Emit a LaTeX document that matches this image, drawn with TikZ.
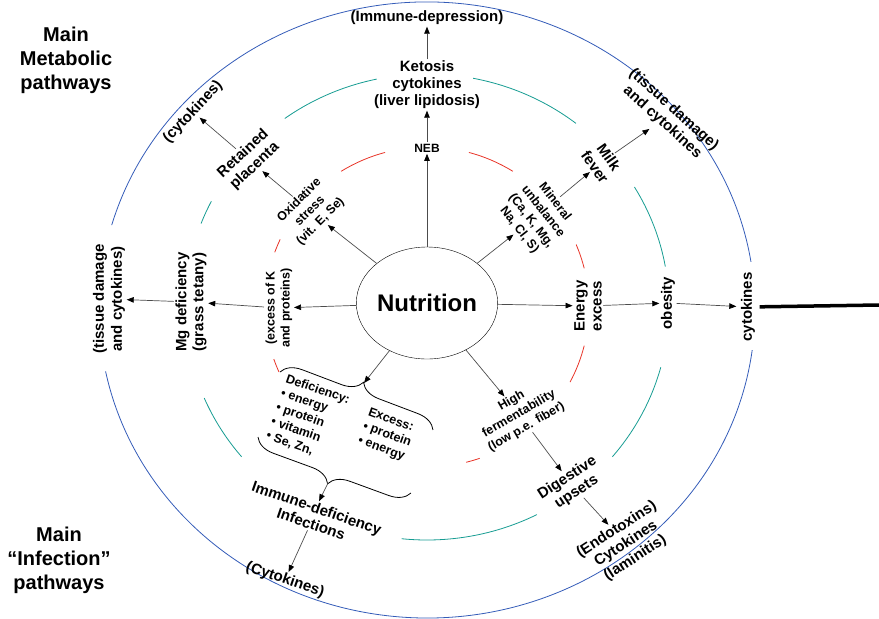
\documentclass[tikz,border=0pt]{standalone}
\usepackage{fontspec}
\setmainfont{Liberation Sans}
\usetikzlibrary{arrows.meta,decorations.pathreplacing,shapes.geometric}
\definecolor{ringblue}{RGB}{52,92,184}
\definecolor{ringteal}{RGB}{22,156,146}
\definecolor{ringred}{RGB}{232,52,40}

\begin{document}
\begin{tikzpicture}[x=1pt,y=-1pt,
  every node/.style={inner sep=1.5pt,align=center,font=\bfseries\fontsize{15}{17}\selectfont},
  sm/.style={font=\bfseries\fontsize{12.5}{15}\selectfont},
  huge/.style={font=\bfseries\fontsize{20}{24}\selectfont},
  arr/.style={-{Triangle[length=7pt,width=5.5pt,color=black]},line width=0.7pt,black!70},
  ring/.style={line width=0.8pt},
  brc/.style={decorate,decoration={brace,amplitude=20pt},line width=0.8pt}]
\useasboundingbox (0,0) rectangle (879,619);

% rings
\draw[ring,ringblue] (427,310) ++(196:328 and 308) arc (196:351:328 and 308);
\draw[ring,ringblue] (427,310) ++(7.5:328 and 308) arc (7.5:168.5:328 and 308);
\draw[ring,ringteal] (427,307) ++(234:242 and 233) arc (234:258:242 and 233);
\draw[ring,ringteal] (427,307) ++(201:242 and 233) arc (201:207:242 and 233);
\draw[ring,ringteal] (427,307) ++(281:242 and 233) arc (281:308:242 and 233);
\draw[ring,ringteal] (427,307) ++(329:242 and 233) arc (329:350:242 and 233);
\draw[ring,ringteal] (427,307) ++(15:242 and 233) arc (15:40:242 and 233);
\draw[ring,ringteal] (427,307) ++(63:242 and 233) arc (63:96:242 and 233);
\draw[ring,ringteal] (427,307) ++(140:242 and 233) arc (140:157:242 and 233);
\draw[ring,ringred] (427,307) ++(238:162 and 160) arc (238:255:162 and 160);
\draw[ring,ringred] (427,307) ++(285:162 and 160) arc (285:302:162 and 160);
\draw[ring,ringred] (427,307) ++(337:162 and 160) arc (337:346:162 and 160);
\draw[ring,ringred] (427,307) ++(14:162 and 160) arc (14:28:162 and 160);
\draw[ring,ringred] (427,307) ++(71:162 and 160) arc (71:76:162 and 160);
\draw[ring,ringred] (427,307) ++(156:162 and 160) arc (156:161:162 and 160);
\draw[ring,ringred] (427,307) ++(200:162 and 160) arc (200:205:162 and 160);

% titles
\node[huge] (mainmet) at (66,60) {Main\\Metabolic\\pathways};
\node[huge] (maininf) at (59,560) {Main\\``Infection''\\pathways};

% centre
\node[draw,ellipse,minimum width=138pt,minimum height=112pt,inner sep=0pt,
  font=\bfseries\fontsize{24}{28}\selectfont] (nut) at (427,303) {Nutrition};

% metabolic side
\node[font=\bfseries\fontsize{12}{14}\selectfont] (neb) at (427,148) {NEB};
\node (ketosis) at (427,85) {Ketosis\\cytokines\\(liver lipidosis)};
\node (immdep) at (427,18) {(Immune-depression)};
\node[sm,rotate=45] (oxid) at (310,211) {Oxidative\\stress\\(vit. E, Se)};
\node[rotate=43] (placenta) at (249,160) {Retained\\placenta};
\node[rotate=47] (cytoA) at (193,112) {(cytokines)};
\node[sm,rotate=-52] (mineral) at (537,216) {Mineral\\unbalance\\(Ca, K, Mg,\\Na, Cl, S)};
\node[rotate=-55] (milk) at (602,162) {Milk\\fever};
\node[rotate=-42] (tissueA) at (668,116) {(tissue damage)\\and cytokines};
\node[sm,rotate=90] (excessK) at (279,308) {(excess of K\\and proteins)};
\node[rotate=90] (mgdef) at (191,302) {Mg deficiency\\(grass tetany)};
\node[rotate=90,font=\bfseries\fontsize{15}{18}\selectfont] (tissueB) at (109,299) {(tissue damage\\and cytokines)};
\node[rotate=90] (energy) at (588,306) {Energy\\excess};
\node[rotate=90] (obesity) at (668,303) {obesity};
\node[rotate=90] (cytoR) at (748,307) {cytokines};
\coordinate (edge) at (879,305);

% infection side
\node[sm,rotate=-19,align=left] (deficiency) at (308,418) {Deficiency:\\\textbullet\ energy\\\textbullet\ protein\\\textbullet\ vitamin\\\textbullet\ Se, Zn,};
\node[sm,rotate=-20,align=left] (excess) at (387,435) {Excess:\\\textbullet\ protein\\\textbullet\ energy};
\draw[brc] (280,372) -- (433,430);
\draw[brc,decoration={mirror}] (258,437) -- (411,493);
\coordinate (bracetop) at (364,383);
\coordinate (bracebot) at (328,483);
\node[rotate=-19] (immdef) at (314,516) {Immune-deficiency\\Infections};
\node[rotate=-19] (cytoB) at (285,580) {(Cytokines)};
\node[sm,rotate=30] (highferm) at (519,414) {High\\fermentability\\(low p.e. fiber)};
\node[rotate=33] (digest) at (572,485) {Digestive\\upsets};
\node[rotate=33] (endotox) at (626,544) {(Endotoxins)\\Cytokines\\(laminitis)};

% connectors
\draw[arr] (nut) -- (neb);
\draw[arr] (neb) -- (ketosis);
\draw[arr] (ketosis) -- (immdep);
\draw[arr] (nut) -- (oxid);
\draw[arr] (oxid) -- (placenta);
\draw[arr] (placenta) -- (cytoA);
\draw[arr] (nut) -- (mineral);
\draw[arr] (mineral) -- (milk);
\draw[arr,shorten >=5pt] (milk) -- (tissueA);
\draw[arr] (nut) -- (excessK);
\draw[arr] (excessK) -- (mgdef);
\draw[arr] (mgdef) -- (tissueB);
\draw[arr] (nut) -- (energy);
\draw[arr] (energy) -- (obesity);
\draw[arr,shorten >=3pt] (obesity) -- (cytoR);
\draw[line width=3.5pt,shorten <=3pt] (cytoR) -- (edge);
\draw[arr] (nut) -- (bracetop);
\draw[arr] (bracebot) -- (immdef.north);
\draw[arr] (immdef) -- (cytoB);
\draw[arr] (nut) -- (highferm);
\draw[arr] (highferm) -- (digest);
\draw[arr] (digest) -- (endotox);
\end{tikzpicture}
\end{document}
